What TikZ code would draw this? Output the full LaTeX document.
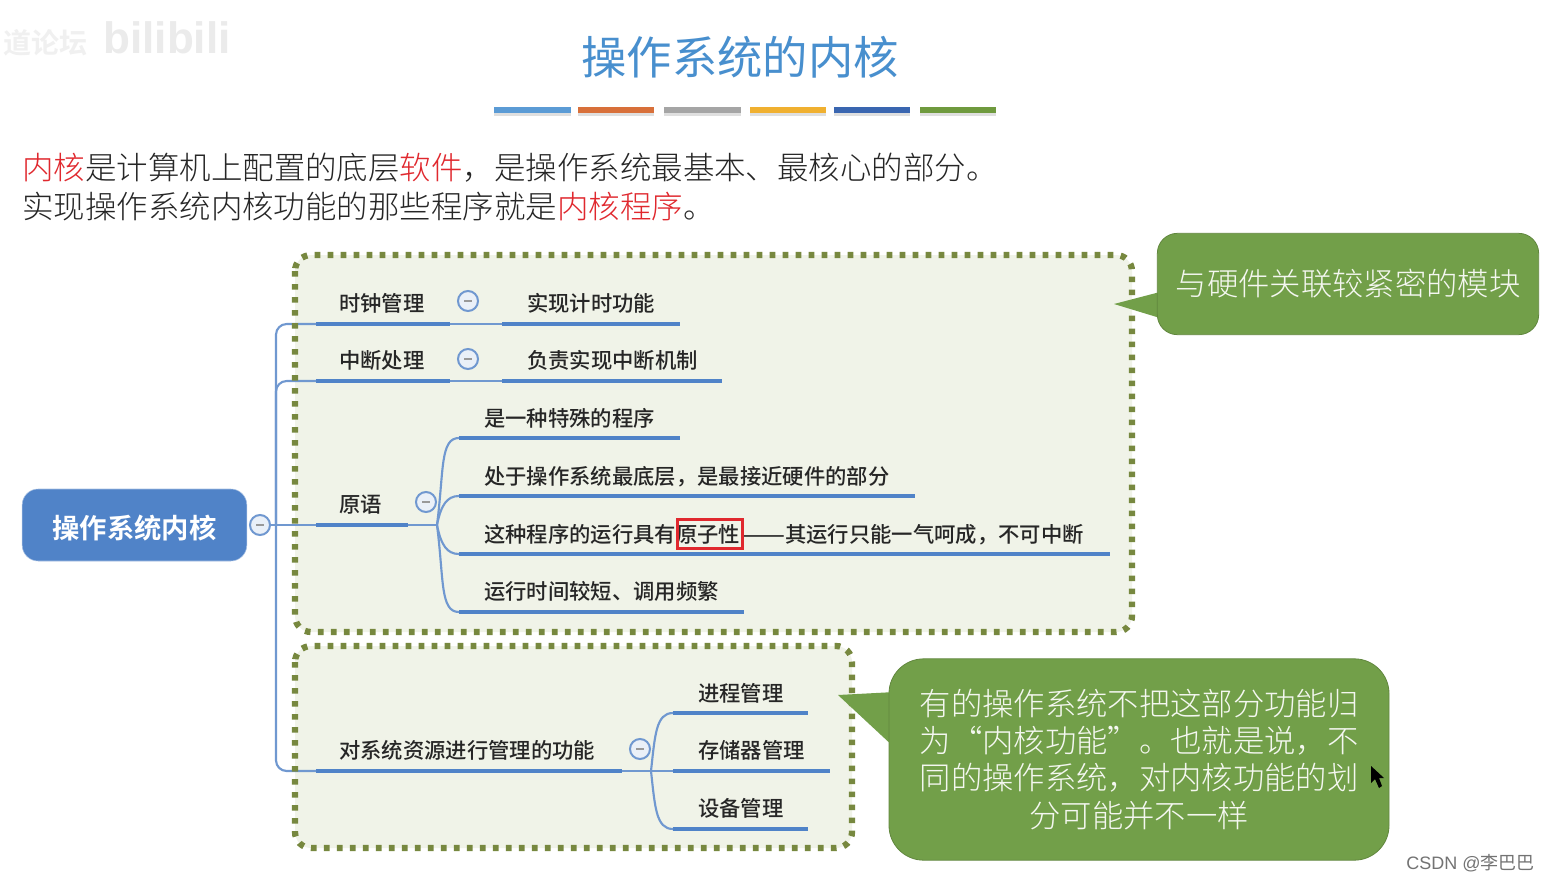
\documentclass[tikz,border=0pt]{standalone}
\usepackage{fontspec}
\setmainfont{Noto Sans CJK SC}
\setsansfont{Liberation Sans}
\newfontfamily\cjklight{Noto Sans CJK SC Light}
\newfontfamily\cjkmedium{Noto Sans CJK SC Medium}
\newfontfamily\cjkbold{Noto Sans CJK SC Bold}
\definecolor{rootblue}{HTML}{5083C8}
\definecolor{linkblue}{HTML}{7098D0}
\definecolor{dotolive}{HTML}{77883F}
\definecolor{boxfill}{HTML}{F0F3E8}
\definecolor{notegreen}{HTML}{729F49}
\definecolor{keyred}{HTML}{E0282E}
\tikzset{
  bar/.style={rootblue, line width=3.7pt},
  link/.style={linkblue, line width=1.6pt},
  topic/.style={anchor=west, inner sep=0pt, text=black!85, font=\cjkmedium\fontsize{16}{16}\selectfont},
  para/.style={anchor=west, inner sep=0pt, text=black!85, font=\cjklight\fontsize{23.6}{24}\selectfont},
  fold/.style={circle, draw=linkblue, line width=1.5pt, fill=white!85!linkblue, minimum size=15pt, inner sep=0pt,
    path picture={\draw[gray!80, line width=1.3pt] ([xshift=-3pt]path picture bounding box.center) -- ([xshift=3pt]path picture bounding box.center);}},
  dotbox/.style={dotolive, line width=4.7pt, dash pattern=on 4.2pt off 5.55pt, rounded corners=12pt},
  note/.style={draw=notegreen!85!black, line width=.6pt, fill=notegreen, text=white!92!notegreen, align=center,
    font=\cjklight\fontsize{23.5}{27.8}\selectfont},
  stripe/.style={line width=5pt}
}
\begin{document}
\begin{tikzpicture}[x=0.75pt, y=-0.75pt]
    \useasboundingbox (0,0) rectangle (1550,882);
    \fill[white] (0,0) rectangle (1550,882);
    % watermark
    \node[gray!12, font=\cjkbold\fontsize{21}{21}\selectfont] (markcn) at (45,43) {道论坛};
    \node[gray!16, font=\sffamily\bfseries\fontsize{33}{33}\selectfont] (markbili) at (167,38) {bilibili};
    % title
    \node[text=rootblue!90!cyan, font=\fontsize{34}{34}\selectfont] (title) at (740,57) {操作系统的内核};
    \fill[gray!25] (494,112) rectangle (571,116);
    \fill[gray!25] (578,112) rectangle (654,116);
    \fill[gray!25] (664,112) rectangle (741,116);
    \fill[gray!25] (750,112) rectangle (826,116);
    \fill[gray!25] (834,112) rectangle (910,116);
    \fill[gray!25] (920,112) rectangle (996,116);
    \draw[stripe, color={rgb,255:red,91;green,155;blue,213}] (494,110) -- (571,110);
    \draw[stripe, color={rgb,255:red,216;green,112;blue,58}] (578,110) -- (654,110);
    \draw[stripe, color={rgb,255:red,165;green,165;blue,165}] (664,110) -- (741,110);
    \draw[stripe, color={rgb,255:red,240;green,176;blue,48}] (750,110) -- (826,110);
    \draw[stripe, color={rgb,255:red,58;green,102;blue,176}] (834,110) -- (910,110);
    \draw[stripe, color={rgb,255:red,111;green,154;blue,62}] (920,110) -- (996,110);
    % text under the title
    \node[para] (line1) at (22,168) {\textcolor{keyred}{内核}是计算机上配置的底层\textcolor{keyred}{软件}，是操作系统最基本、最核心的部分。};
    \node[para] (line2) at (22,206) {实现操作系统内核功能的那些程序就是\textcolor{keyred}{内核程序}。};
    % groups
    \fill[boxfill, rounded corners=12pt] (295,255) rectangle (1132,632);
    \fill[boxfill, rounded corners=12pt] (295,646) rectangle (852,848);
    % root
    \node[fill=rootblue, draw=linkblue!60, rounded corners=12pt, minimum width=168.5pt, minimum height=54pt, inner sep=0pt,
      text=white, font=\cjkbold\fontsize{20.5}{20.5}\selectfont] (root) at (134.5,525) {\raisebox{-10pt}[10pt][10pt]{操作系统内核}};
    \node[fold] (rootfold) at (260,525) {};
    % first level
    \draw[bar] (316,324) coordinate (clockL) -- (450,324) coordinate (clockR);
    \draw[bar] (316,381) coordinate (irqL) -- (450,381) coordinate (irqR);
    \draw[bar] (316,525) coordinate (primL) -- (408,525) coordinate (primR);
    \draw[bar] (316,771) coordinate (resL) -- (622,771) coordinate (resR);
    \coordinate (trunk) at (276,525);
    \draw[link] (rootfold) -- (primL);
    \draw[link, rounded corners=8pt] (clockL) -- (trunk |- clockL) -- (trunk |- resL) -- (resL);
    \draw[link, rounded corners=8pt] (irqL) -- (trunk |- irqL) -- (trunk |- primL);
    % second level
    \draw[bar] (502,324) coordinate (timerL) -- (680,324) coordinate (timerR);
    \draw[bar] (502,381) coordinate (intrL) -- (722,381) coordinate (intrR);
    \draw[bar] (459,438) coordinate (specL) -- (680,438) coordinate (specR);
    \draw[bar] (459,496) coordinate (lowL) -- (915,496) coordinate (lowR);
    \draw[bar] (459,554) coordinate (atomL) -- (1110,554) coordinate (atomR);
    \draw[bar] (459,612) coordinate (shortL) -- (744,612) coordinate (shortR);
    \draw[bar] (673,713) coordinate (procL) -- (808,713) coordinate (procR);
    \draw[bar] (673,771) coordinate (memL) -- (830,771) coordinate (memR);
    \draw[bar] (673,829) coordinate (devL) -- (808,829) coordinate (devR);
    \draw[link] (clockR) -- (timerL);
    \draw[link] (irqR) -- (intrL);
    \coordinate (primfork) at (437,525);
    \coordinate (resfork) at (651,771);
    \draw[link] (primR) -- (primfork);
    \draw[link] (resR) -- (memL);
    \draw[link] (primfork) .. controls (444,470) and (440,438) .. (specL);
    \draw[link] (primfork) .. controls (441,505) and (447,496) .. (lowL);
    \draw[link] (primfork) .. controls (441,545) and (447,554) .. (atomL);
    \draw[link] (primfork) .. controls (444,580) and (440,612) .. (shortL);
    \draw[link] (resfork) .. controls (655,735) and (656,713) .. (procL);
    \draw[link] (resfork) .. controls (655,807) and (656,829) .. (devL);
    % dotted borders go over the lines
    \draw[dotbox] (295,255) rectangle (1132,632);
    \draw[dotbox] (295,646) rectangle (852,848);
    % fold marks
    \node[fold] (clockfold) at (468,301) {};
    \node[fold] (irqfold) at (468,359) {};
    \node[fold] (primfold) at (426,502) {};
    \node[fold] (resfold) at (640,749) {};
    % labels
    \node[topic] (clock) at (339,303.5) {时钟管理};
    \node[topic] (irq) at (339,360.5) {中断处理};
    \node[topic] (prim) at (339,504.5) {原语};
    \node[topic] (res) at (339,750.5) {对系统资源进行管理的功能};
    \node[topic] (timer) at (527,303.5) {实现计时功能};
    \node[topic] (intr) at (527,360.5) {负责实现中断机制};
    \node[topic] (spec) at (484,418.5) {是一种特殊的程序};
    \node[topic] (low) at (484,476.5) {处于操作系统最底层，是最接近硬件的部分};
    \node[topic] (atom) at (484,534.5) {这种程序的运行具有原子性\scalebox{1.25}[1]{——}其运行只能一气呵成，不可中断};
    \node[topic] (short) at (484,591.5) {运行时间较短、调用频繁};
    \node[topic] (proc) at (698,693.5) {进程管理};
    \node[topic] (mem) at (698,750.5) {存储器管理};
    \node[topic] (dev) at (698,808.5) {设备管理};
    \node[draw=keyred, line width=2pt, minimum width=49pt, minimum height=22pt, inner sep=0pt] (atomkey) at (710,534) {};
    % notes
    \fill[notegreen] (1160,292) -- (1114,304) -- (1160,318) -- cycle;
    \node[note, rounded corners=15pt, minimum width=286pt, minimum height=76pt, inner sep=0pt] (hwnote) at (1348,284) {与硬件关联较紧密的模块};
    \fill[notegreen] (895,692) -- (838,695) -- (895,748) -- cycle;
    \node[note, rounded corners=26pt, minimum width=375pt, minimum height=151pt, inner sep=0pt] (osnote) at (1139,759.5) {有的操作系统不把这部分功能归\\为“内核功能”。也就是说，不\\同的操作系统，对内核功能的划\\分可能并不一样};
    % pointer and credit
    \fill[black] (1371,766) -- (1371,783) -- (1375,779) -- (1379,788) -- (1382,786) -- (1379,778) -- (1384,778) -- cycle;
    \node[anchor=east, inner sep=0pt, text=gray!90!black, font=\sffamily\fontsize{13.5}{13.5}\selectfont] (credit) at (1535,863) {CSDN @\fontspec{Noto Sans CJK SC}李巴巴};
  \end{tikzpicture}
\end{document}
